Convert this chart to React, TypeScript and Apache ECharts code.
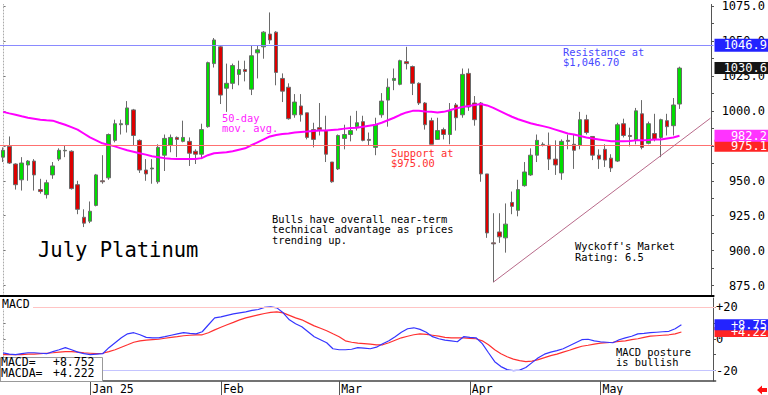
import React, { useEffect, useRef } from "react";
import * as echarts from "echarts";

// ---------- data ----------
const HOLIDAYS = ["2024-12-25", "2025-01-01", "2025-01-20", "2025-02-17", "2025-04-18", "2025-05-26"];
const FIRST_DAY = "2024-12-11";
const SLOT_COUNT = 115; // 110 trading sessions + 5 empty future slots
const MONTH_LABELS: Record<string, string> = { "2025-01": "Jan 25", "2025-02": "Feb", "2025-03": "Mar", "2025-04": "Apr", "2025-05": "May" };

const opens = [966.9, 974.6, 962.0, 950.7, 961.3, 964.1, 943.7, 940.1, 954.2, 965.5, 971.4, 971.1, 947.2, 923.9, 921.1, 932.4, 950.0, 952.1, 978.9, 990.1, 990.1, 1000.7, 978.9, 957.7, 958.5, 949.3, 968.3, 975.4, 981.0, 978.2, 978.2, 971.1, 969.0, 988.7, 1033.8, 1045.8, 1016.2, 1019.7, 1026.1, 1029.6, 1015.5, 1041.5, 1045.8, 1054.9, 1056.3, 1023.2, 1016.9, 997.2, 1003.5, 998.6, 986.6, 988.0, 985.9, 963.4, 958.5, 980.3, 983.1, 988.7, 992.3, 979.6, 973.9, 997.2, 1007.7, 1021.8, 1019.0, 1035.2, 1031.7, 1019.7, 1005.6, 993.0, 979.6, 986.6, 983.1, 1004.2, 997.2, 1026.8, 1005.6, 1005.6, 954.9, 905.6, 913.4, 909.2, 934.5, 928.9, 946.5, 954.2, 968.3, 975.8, 975.4, 965.5, 955.6, 978.9, 976.1, 975.4, 993.7, 981.7, 968.3, 972.5, 966.2, 964.1, 990.8, 982.4, 978.9, 997.9, 976.8, 983.8, 981.0, 993.0, 989.4, 1004.9];
const closes = [971.8, 962.7, 947.2, 962.7, 964.1, 954.2, 942.3, 948.6, 960.6, 971.8, 971.8, 944.4, 929.6, 919.7, 928.2, 954.2, 949.3, 983.1, 990.8, 990.8, 1002.1, 982.4, 957.7, 954.9, 959.1, 973.9, 980.3, 981.0, 979.6, 981.0, 969.7, 969.0, 986.6, 1034.5, 1050.7, 1011.3, 1019.7, 1032.4, 1029.6, 1028.2, 1039.4, 1043.7, 1056.3, 1050.7, 1027.5, 1014.1, 994.4, 1006.3, 997.2, 981.0, 979.6, 986.6, 969.0, 949.3, 982.4, 983.1, 985.9, 991.5, 978.9, 978.9, 990.1, 1007.0, 1016.9, 1023.2, 1035.9, 1033.8, 1019.7, 1005.6, 990.1, 976.1, 985.9, 983.1, 1000.0, 995.1, 1026.1, 1002.8, 993.7, 954.9, 912.7, 904.9, 909.9, 919.0, 931.7, 943.7, 956.3, 968.3, 978.9, 976.1, 965.5, 961.3, 978.2, 978.2, 971.8, 993.7, 984.5, 968.3, 965.5, 964.8, 959.2, 990.1, 982.4, 981.7, 1000.0, 973.9, 990.8, 979.6, 993.7, 988.7, 1004.2, 1030.6];
const lows = [963.4, 962.0, 943.7, 943.0, 950.0, 943.0, 940.8, 937.3, 951.4, 964.1, 966.9, 943.7, 926.1, 916.9, 919.7, 931.7, 947.9, 950.7, 977.5, 983.1, 984.5, 975.4, 955.6, 950.0, 947.9, 947.9, 957.0, 970.4, 966.9, 977.5, 960.6, 962.0, 965.5, 988.0, 1031.0, 1004.9, 999.3, 1015.5, 1018.3, 1021.1, 1011.3, 1023.2, 1037.3, 1047.9, 1018.3, 1006.3, 993.7, 995.1, 992.3, 979.6, 973.9, 982.4, 963.4, 948.6, 957.7, 972.5, 978.2, 985.9, 978.2, 975.4, 968.3, 995.1, 988.7, 1014.8, 1018.3, 1029.6, 1011.3, 1004.2, 986.6, 976.1, 979.6, 979.6, 976.1, 985.9, 995.1, 1000.0, 989.4, 949.3, 909.2, 877.5, 905.6, 898.6, 926.1, 924.6, 945.8, 953.5, 963.4, 974.6, 957.7, 954.2, 950.7, 972.5, 958.5, 972.5, 983.1, 964.8, 958.5, 959.9, 956.3, 963.4, 981.0, 974.6, 976.1, 972.5, 976.1, 978.2, 966.9, 982.4, 982.4, 1001.4];
const highs = [973.9, 981.7, 962.5, 966.9, 964.8, 965.5, 951.4, 950.7, 963.4, 973.2, 975.4, 971.8, 950.0, 929.6, 935.2, 954.9, 968.3, 983.8, 993.7, 993.7, 1007.0, 1001.4, 979.6, 965.5, 965.5, 976.1, 983.1, 983.1, 981.7, 993.0, 981.0, 972.5, 990.8, 1035.2, 1052.1, 1046.5, 1033.8, 1033.8, 1035.9, 1035.9, 1046.5, 1046.5, 1057.0, 1070.4, 1057.0, 1026.8, 1019.7, 1012.0, 1012.0, 998.6, 991.5, 1005.6, 996.5, 963.4, 983.1, 990.1, 996.5, 1000.0, 996.5, 984.5, 995.1, 1012.7, 1023.2, 1030.3, 1036.6, 1045.8, 1032.4, 1020.4, 1006.3, 995.1, 995.1, 988.0, 1005.6, 1005.6, 1030.3, 1030.3, 1010.6, 1006.3, 954.9, 926.8, 926.8, 933.8, 942.3, 950.7, 963.4, 973.2, 983.1, 977.5, 984.5, 978.9, 979.6, 983.1, 983.1, 999.3, 997.2, 981.7, 972.5, 976.1, 969.0, 991.5, 994.4, 988.0, 1002.1, 1007.7, 992.3, 997.9, 994.4, 997.9, 1009.2, 1031.6];
const ma50 = [999.3, 998.2, 997.2, 996.1, 995.1, 994.4, 993.7, 993.3, 993.0, 991.5, 990.1, 988.4, 986.6, 983.8, 981.0, 978.9, 976.8, 975.7, 974.6, 973.2, 971.8, 970.8, 969.7, 968.7, 967.6, 966.9, 966.2, 965.8, 965.5, 965.5, 965.5, 965.5, 966.2, 968.3, 969.7, 970.1, 970.4, 971.1, 972.2, 973.2, 975.4, 977.5, 979.6, 981.7, 982.7, 983.5, 983.8, 984.5, 984.9, 985.2, 985.6, 985.9, 985.9, 986.3, 986.6, 987.3, 987.7, 988.0, 988.7, 989.4, 990.1, 991.5, 993.3, 995.1, 997.2, 998.9, 1000.0, 1000.0, 999.6, 999.3, 998.9, 999.3, 1000.4, 1001.8, 1002.8, 1003.5, 1004.2, 1004.9, 1003.9, 1002.1, 1000.0, 997.9, 995.8, 994.0, 992.6, 991.2, 990.1, 989.1, 988.0, 986.6, 985.2, 983.8, 983.1, 982.0, 981.0, 980.3, 979.6, 978.9, 978.2, 978.2, 978.2, 978.5, 978.9, 978.9, 979.2, 979.6, 979.6, 980.3, 981.0, 982.2];
const macd = [-8.9, -9.7, -10.0, -9.4, -8.8, -8.8, -9.1, -9.4, -8.1, -6.9, -5.6, -6.9, -8.4, -9.4, -10.0, -9.7, -9.4, -5.6, -2.5, 0.6, 3.1, 3.8, 2.5, 0.9, 0.6, 0.6, 1.3, 2.2, 3.1, 3.8, 3.4, 3.1, 4.4, 8.8, 13.1, 13.8, 14.7, 15.6, 16.3, 16.9, 17.8, 18.4, 19.7, 20.0, 19.4, 16.3, 11.9, 9.4, 7.5, 4.4, 1.3, -0.6, -2.5, -6.3, -6.9, -6.9, -6.6, -5.6, -5.9, -6.3, -5.3, -3.1, -1.3, 1.3, 4.1, 6.3, 6.9, 5.9, 4.1, 1.3, 0.0, -0.9, -1.3, -1.9, 1.3, 0.9, 0.6, -3.1, -8.8, -14.4, -17.5, -19.4, -20.0, -19.7, -18.1, -15.0, -11.9, -9.7, -8.4, -7.5, -6.3, -4.4, -2.5, -0.6, -0.3, -1.3, -1.9, -2.2, -2.5, -0.6, 0.6, 1.6, 3.1, 3.4, 3.8, 4.1, 4.4, 4.7, 6.3, 8.752];
const macdAvg = [-10.0, -10.0, -10.0, -10.0, -9.7, -9.7, -9.4, -9.1, -8.8, -8.4, -8.1, -8.1, -8.4, -8.8, -9.1, -9.4, -9.1, -8.1, -6.9, -5.3, -3.8, -2.2, -1.3, -0.9, -0.6, -0.3, 0.3, 0.9, 1.3, 1.9, 2.2, 2.5, 2.5, 3.8, 5.6, 7.2, 8.8, 10.3, 11.9, 13.1, 14.1, 15.0, 15.9, 16.6, 16.9, 16.3, 14.7, 13.1, 11.9, 10.0, 8.1, 6.6, 5.0, 3.1, 1.3, -1.3, -2.2, -2.8, -3.1, -3.4, -3.8, -3.8, -2.5, -0.9, 0.6, 1.6, 2.5, 3.1, 2.8, 2.2, 1.6, 0.9, 0.6, 0.6, 0.6, 0.3, 0.0, -1.3, -3.8, -6.9, -9.4, -11.3, -12.8, -13.8, -14.4, -14.1, -13.1, -11.9, -10.6, -9.7, -8.4, -7.2, -5.9, -4.7, -4.1, -3.4, -2.8, -2.5, -2.2, -1.6, -1.3, -0.6, 0.0, 0.9, 1.6, 1.9, 2.2, 2.5, 3.1, 4.222];

const priceTicks = [875, 900, 925, 950, 975, 1000, 1025, 1050, 1075];
const priceMinorTicks = [875, 887.5, 900, 912.5, 925, 937.5, 950, 962.5, 975, 987.5, 1000, 1012.5, 1025, 1037.5, 1050, 1062.5, 1075];
const macdTicks = [-20, 0, 20];
const macdMinorTicks = [-20, -10, 0, 10, 20];
const RESISTANCE = 1046.9;
const SUPPORT = 975.1;
const TREND_START = { idx: 79, value: 877.5 };
const TREND_END = { idx: 114, value: 994.8 };

function buildDates(start: string, count: number): string[] {
  const out: string[] = [];
  const d = new Date(start + "T12:00:00Z");
  while (out.length < count) {
    const s = d.toISOString().slice(0, 10);
    const wd = d.getUTCDay();
    if (wd !== 0 && wd !== 6 && !HOLIDAYS.includes(s)) out.push(s);
    d.setUTCDate(d.getUTCDate() + 1);
  }
  return out;
}
const dates = buildDates(FIRST_DAY, SLOT_COUNT);
const isMonthStart = (i: number) => i > 0 && dates[i].slice(0, 7) !== dates[i - 1].slice(0, 7) && !!MONTH_LABELS[dates[i].slice(0, 7)];

const MONO = '"DejaVu Sans Mono", monospace';

export default function App() {
  const ref = useRef<HTMLDivElement>(null);
  useEffect(() => {
    if (!ref.current) return;
    const chart = echarts.init(ref.current, undefined, { renderer: "svg" });
    const ohlc = opens.map((o, i) => [o, closes[i], lows[i], highs[i]]);
    const gridLeft = -3.125;
    const gridRight = 52.375;
    const PMIN = 867.6, PMAX = 1076.1, MMIN = -26.56, MMAX = 25.625;
    const leftAxis = (gridIndex: number, min: number, max: number, ticks: number[]) => ({
      type: "value", gridIndex, position: "left", offset: -3.6, min, max,
      axisLine: { show: true, lineStyle: { color: "#aaa", type: [1, 2] } },
      axisTick: { show: true, inside: true, length: 2, customValues: ticks, lineStyle: { color: "#777" } },
      axisLabel: { show: false }, splitLine: { show: false },
    });
    const option: any = {
      animation: false,
      backgroundColor: "#ffffff",
      textStyle: { fontFamily: MONO },
      grid: [
        { left: gridLeft, right: gridRight, top: 0, height: 296 },
        { left: gridLeft, right: gridRight, top: 298, height: 83.5 },
      ],
      xAxis: [
        {
          type: "category", gridIndex: 0, data: dates,
          axisLine: { show: true, onZero: false, lineStyle: { color: "#000", width: 2 } },
          axisTick: { show: false }, axisLabel: { show: false }, splitLine: { show: false },
        },
        {
          type: "category", gridIndex: 1, data: dates,
          axisLine: { show: true, onZero: false, lineStyle: { color: "#444", width: 1.5 } },
          axisTick: { show: true, alignWithLabel: true, interval: (i: number) => isMonthStart(i), length: 14, lineStyle: { color: "#555" } },
          axisLabel: {
            show: true, interval: (i: number) => isMonthStart(i),
            formatter: (v: string) => MONTH_LABELS[v.slice(0, 7)] || "",
            align: "left", verticalAlign: "top", margin: 2, padding: [0, 0, 0, 2],
            fontSize: 11.5, color: "#000", fontFamily: MONO,
          },
          splitLine: { show: false },
        },
      ],
      yAxis: [
        {
          type: "value", gridIndex: 0, position: "right", offset: -2.6,
          min: PMIN, max: PMAX,
          axisLine: { show: true, lineStyle: { color: "#555" } },
          axisTick: { show: true, length: 3, customValues: priceMinorTicks, lineStyle: { color: "#555" } },
          axisLabel: { show: true, customValues: priceTicks, formatter: (v: number) => v.toFixed(1), align: "right", margin: 54, fontSize: 12, color: "#000", fontFamily: MONO },
          splitLine: { show: false },
        },
        {
          type: "value", gridIndex: 1, position: "right", offset: -2.6,
          min: MMIN, max: MMAX,
          axisLine: { show: true, lineStyle: { color: "#555" } },
          axisTick: { show: true, length: 3, customValues: macdMinorTicks, lineStyle: { color: "#555" } },
          axisLabel: { show: true, customValues: macdTicks, formatter: (v: number) => (v > 0 ? "+" + v : String(v)), align: "left", margin: 3, fontSize: 12, color: "#000", fontFamily: MONO },
          splitLine: { show: false },
        },
        leftAxis(0, PMIN, PMAX, priceTicks),
        leftAxis(1, MMIN, MMAX, macdMinorTicks),
      ],
      series: [
        {
          type: "candlestick", xAxisIndex: 0, yAxisIndex: 0, data: ohlc, barWidth: 4,
          itemStyle: { color: "#00dd00", color0: "#dd0000", borderColor: "#6a6a6a", borderColor0: "#6a6a6a", borderWidth: 1 },
          markLine: {
            silent: true, symbol: "none", label: { show: false },
            data: [
              { yAxis: RESISTANCE, lineStyle: { color: "#8a8aff", width: 1, type: "solid" } },
              { yAxis: SUPPORT, lineStyle: { color: "#ff7070", width: 1, type: "solid" } },
              [
                { coord: [dates[TREND_START.idx], TREND_START.value], lineStyle: { color: "#b86a8a", width: 1, type: "solid" } },
                { coord: [dates[TREND_END.idx], TREND_END.value] },
              ],
            ],
          },
        },
        {
          type: "line", xAxisIndex: 0, yAxisIndex: 0, data: ma50, symbol: "none",
          lineStyle: { color: "#ff00ff", width: 2 }, z: 3,
        },
        {
          type: "line", xAxisIndex: 1, yAxisIndex: 1, data: macdAvg, symbol: "none",
          lineStyle: { color: "#ff3030", width: 1.2 },
          markLine: {
            silent: true, symbol: "none", label: { show: false },
            data: [
              { yAxis: 20, lineStyle: { color: "#ffc4c4", width: 1, type: "solid" } },
              { yAxis: -20, lineStyle: { color: "#c4c4ff", width: 1, type: "solid" } },
            ],
          },
        },
        {
          type: "line", xAxisIndex: 1, yAxisIndex: 1, data: macd, symbol: "none",
          lineStyle: { color: "#3535ff", width: 1.2 },
        },
      ],
    };
    chart.setOption(option);

    const py = (v: number) => chart.convertToPixel({ yAxisIndex: 0 }, v) as number;
    const my = (v: number) => chart.convertToPixel({ yAxisIndex: 1 }, v) as number;
    const box = (y: number, h: number, fill: string, text: string) => [
      { type: "rect", z: 100, shape: { x: 714.5, y: y - h / 2, width: 54, height: h }, style: { fill } },
      { type: "text", z: 101, x: 767, y: y, style: { text, fill: "#fff", font: `12px ${MONO}`, align: "right", verticalAlign: "middle" } },
    ];
    const txt = (x: number, y: number, text: string, fill: string, size = 10.4, lh = 10.5) => ({
      type: "text", z: 101, x, y,
      style: { text, fill, font: `${size}px ${MONO}`, align: "left", verticalAlign: "top", lineHeight: lh },
    });
    const lastClose = closes[closes.length - 1];
    const lastMa = ma50[ma50.length - 1];
    const lastMacd = macd[macd.length - 1];
    const lastAvg = macdAvg[macdAvg.length - 1];
    chart.setOption({
      graphic: [
        ...box(py(RESISTANCE), 13, "#2323ff", RESISTANCE.toFixed(1)),
        ...box(py(lastClose), 12, "#151515", lastClose.toFixed(1)),
        ...box(py(SUPPORT), 12, "#ff2424", SUPPORT.toFixed(1)),
        ...box(py(lastMa), 12, "#ff33ff", lastMa.toFixed(1)),
        ...box(my(lastAvg), 10, "#ff2424", "+" + lastAvg.toFixed(2)),
        ...box(my(lastMacd), 11, "#2323ff", "+" + lastMacd.toFixed(2)),
        txt(563, 46.5, "Resistance at\n$1,046.70", "#4848ff"),
        txt(222, 112.5, "50-day\nmov. avg.", "#ff22ff"),
        txt(391, 147.5, "Support at\n$975.00", "#ff3030"),
        txt(272, 213.5, "Bulls have overall near-term\ntechnical advantage as prices\ntrending up.", "#000"),
        txt(575, 240.5, "Wyckoff's Market\nRating: 6.5", "#000", 10.4, 11),
        txt(616, 346.5, "MACD posture\nis bullish", "#000"),
        { type: "text", z: 101, x: 38, y: 250, style: { text: "July Platinum", fill: "#000", font: `20.5px ${MONO}`, align: "left", verticalAlign: "middle" } },
        { type: "rect", z: 100, shape: { x: 0, y: 299, width: 33, height: 10 }, style: { fill: "#fff" } },
        { type: "text", z: 101, x: 2, y: 304, style: { text: "MACD", fill: "#000", font: `11.5px ${MONO}`, align: "left", verticalAlign: "middle" } },
        { type: "rect", z: 100, shape: { x: 0.5, y: 357.5, width: 102, height: 24 }, style: { fill: "#fff", stroke: "#999", lineWidth: 1 } },
        { type: "text", z: 101, x: 1, y: 362, style: { text: "MACD=", fill: "#000", font: `11.5px ${MONO}`, align: "left", verticalAlign: "middle" } },
        { type: "text", z: 101, x: 53, y: 362, style: { text: "+" + lastMacd.toFixed(3), fill: "#000", font: `11.5px ${MONO}`, align: "left", verticalAlign: "middle" } },
        { type: "text", z: 101, x: 1, y: 372.5, style: { text: "MACDA=", fill: "#000", font: `11.5px ${MONO}`, align: "left", verticalAlign: "middle" } },
        { type: "text", z: 101, x: 53, y: 372.5, style: { text: "+" + lastAvg.toFixed(3), fill: "#000", font: `11.5px ${MONO}`, align: "left", verticalAlign: "middle" } },
        { type: "polygon", z: 101, shape: { points: [[757, 390], [762, 385.5], [762, 388], [767, 388], [767, 392], [762, 392], [762, 394.5]] }, style: { fill: "#ff1010" } },
      ],
    });
    return () => chart.dispose();
  }, []);
  return <div ref={ref} style={{ position: "fixed", left: 0, top: 0, width: 768, height: 395 }} />;
}
